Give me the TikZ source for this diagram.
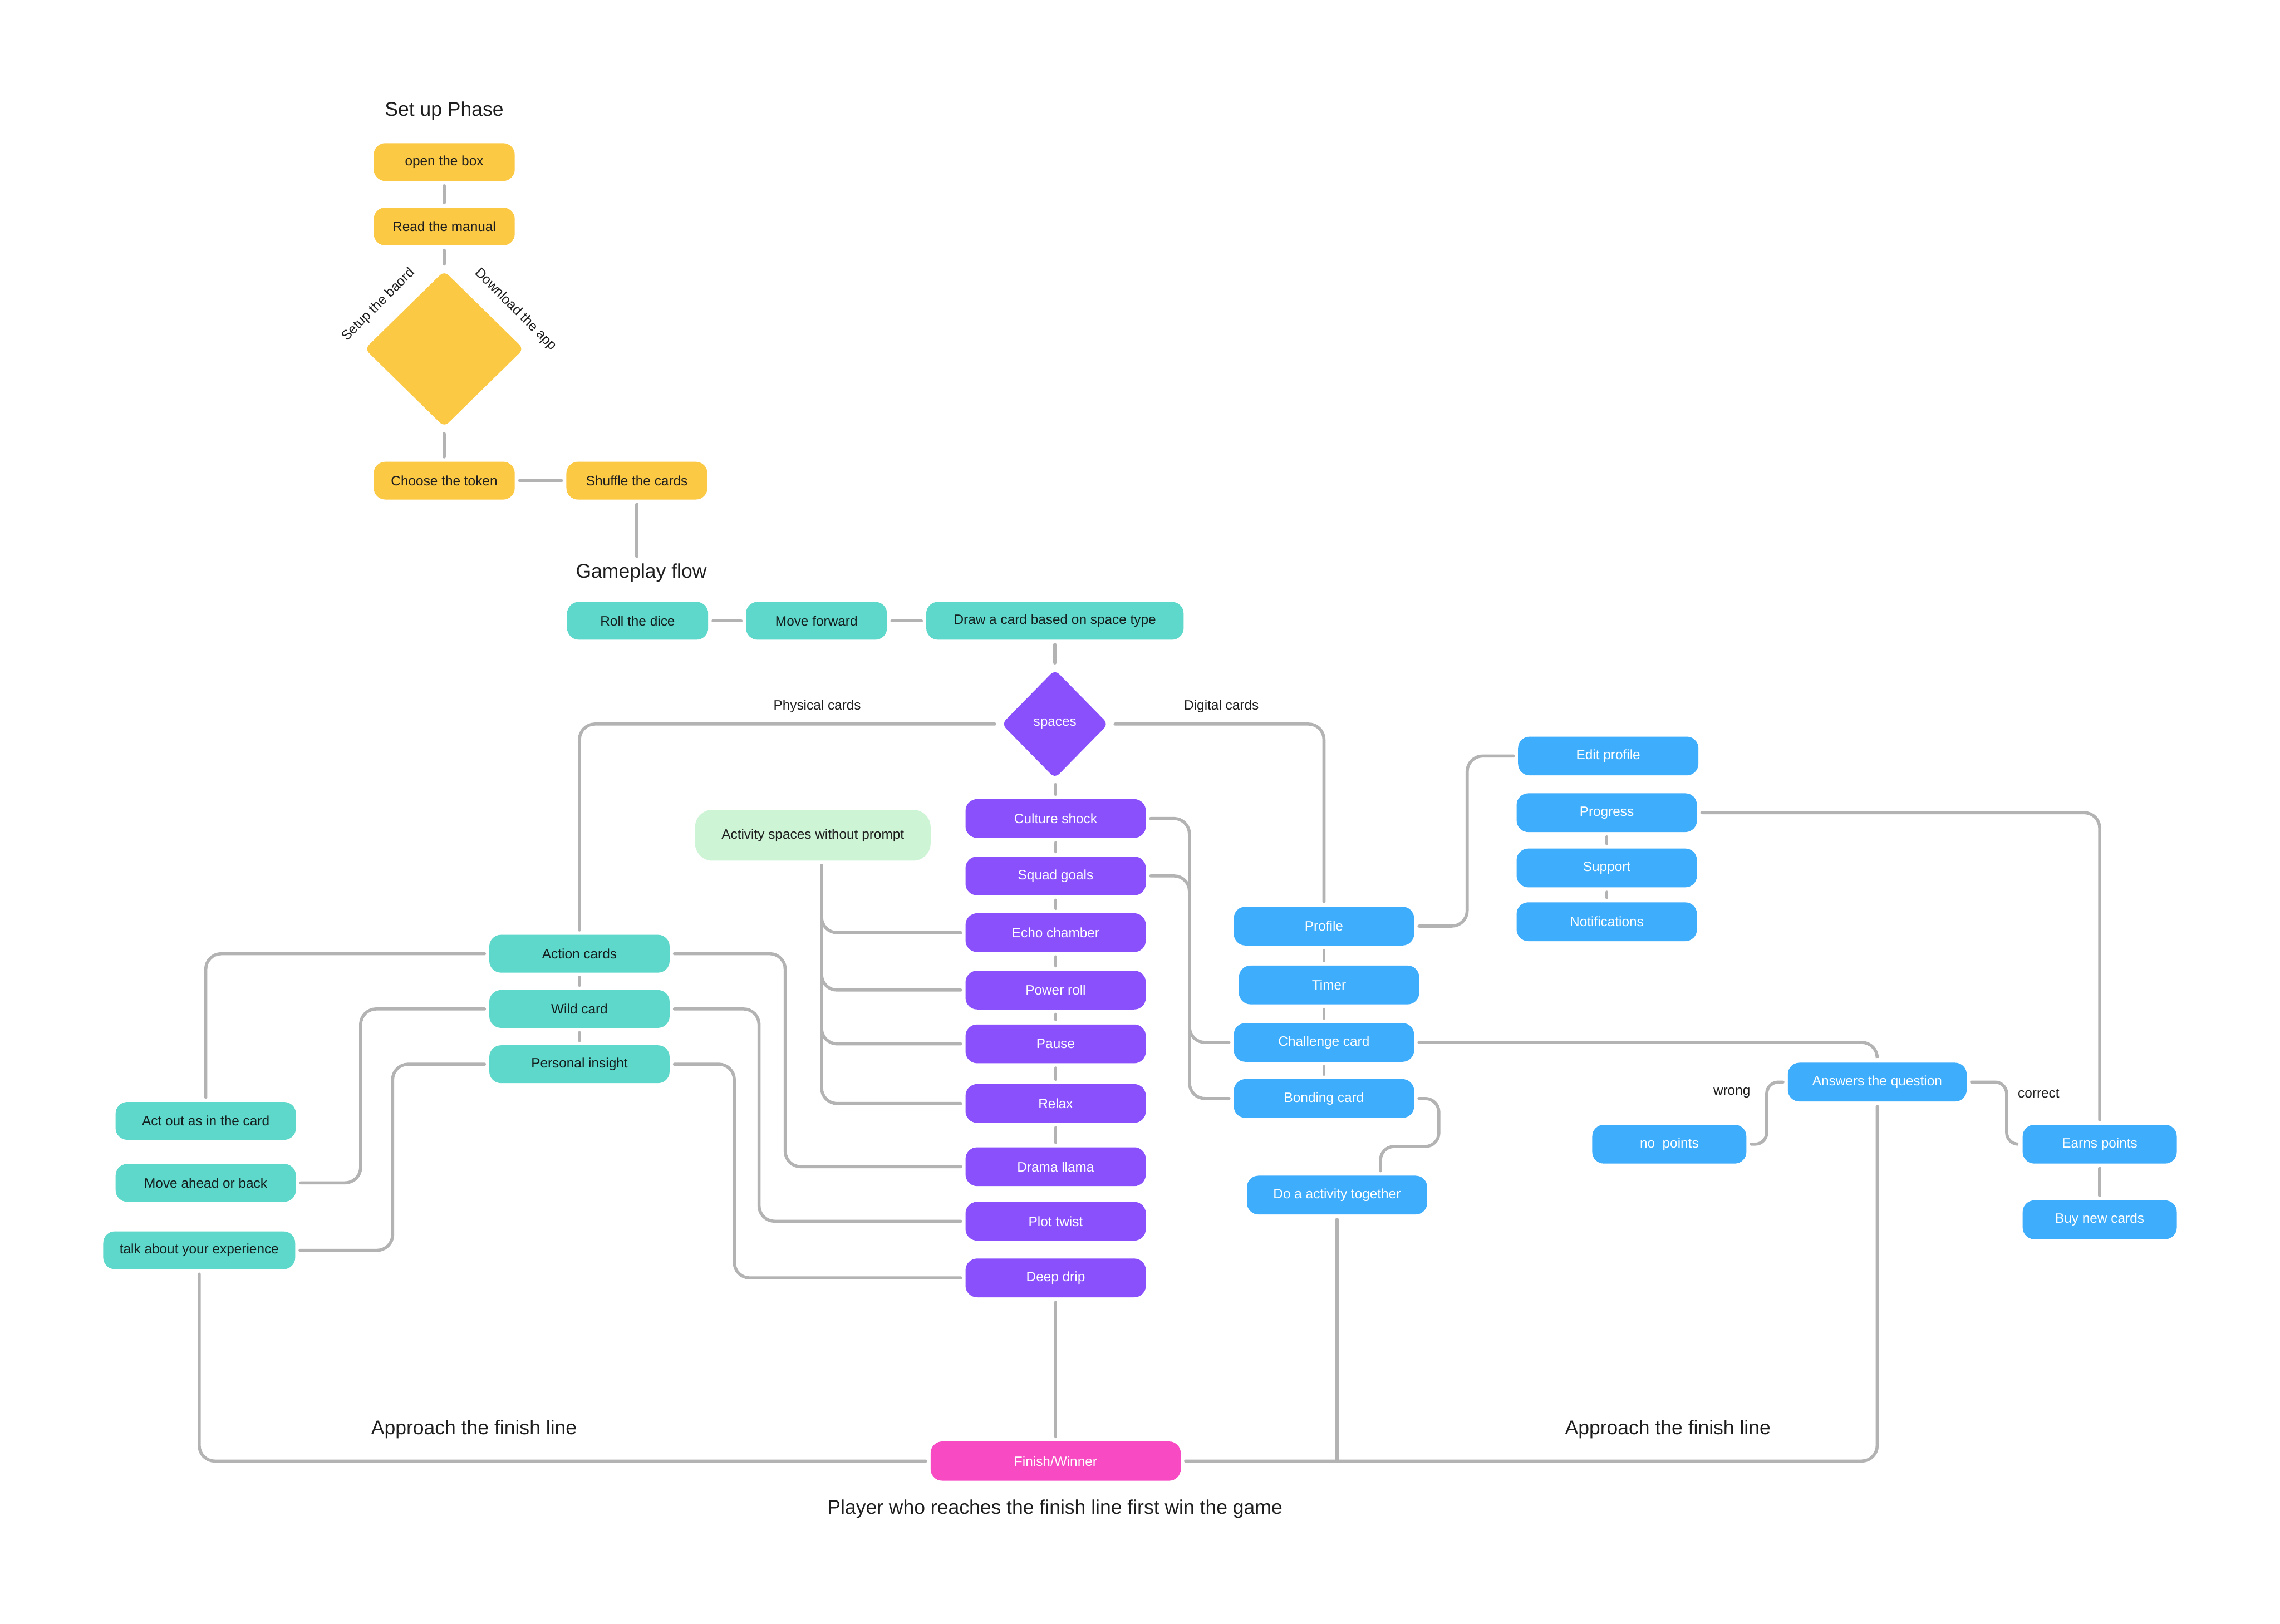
\documentclass[tikz,border=0pt]{standalone}
\usepackage{fontspec}
\setmainfont{Liberation Sans}
\usetikzlibrary{shapes.geometric}

\tikzset{every picture/.style={line width=0.75pt}}
\tikzset{
  card/.style={rounded corners=6pt, inner sep=0pt, outer sep=2.5pt, minimum width=93pt, minimum height=19.5pt, font=\fontsize{7}{8}\selectfont},
  yellowcard/.style={card, fill={rgb, 255:red, 252; green, 201; blue, 69 }, text={rgb, 255:red, 30; green, 30; blue, 30 }, minimum width=72.75pt},
  tealcard/.style={card, fill={rgb, 255:red, 93; green, 216; blue, 202 }, text={rgb, 255:red, 20; green, 30; blue, 30 }},
  purplecard/.style={card, fill={rgb, 255:red, 138; green, 80; blue, 251 }, text=white, minimum height=20pt},
  bluecard/.style={card, fill={rgb, 255:red, 62; green, 173; blue, 252 }, text=white, minimum height=20pt},
  paledcard/.style={card, fill={rgb, 255:red, 204; green, 244; blue, 213 }, text={rgb, 255:red, 30; green, 30; blue, 30 }, rounded corners=9pt},
  pinkcard/.style={card, fill={rgb, 255:red, 248; green, 75; blue, 195 }, text=white},
  decision/.style={diamond, inner sep=0pt, outer sep=2.5pt, rounded corners=3pt, font=\fontsize{7}{8}\selectfont},
  link/.style={draw={rgb, 255:red, 179; green, 179; blue, 179 }, line width=1.6pt, line cap=round, rounded corners=8pt},
  heading/.style={inner sep=0.75pt, outer sep=3pt, text={rgb, 255:red, 30; green, 30; blue, 30 }, font=\fontsize{10.2}{12}\selectfont},
  tag/.style={inner sep=0.75pt, text={rgb, 255:red, 30; green, 30; blue, 30 }, font=\fontsize{7}{8}\selectfont}
}

\begin{document}
\begin{tikzpicture}[x=0.75pt,y=0.75pt,yscale=-1,xscale=1]
\fill[white] (0,0) rectangle (1568,1117);
\useasboundingbox (0,0) rectangle (1568,1117);

%Set up phase
\node [heading] (setuptitle) at (305.5,76.4) {Set up Phase};
\node [yellowcard] (openbox) at (305.5,111.5) {open the box};
\node [yellowcard] (manual) at (305.5,155.8) {Read the manual};
\node [decision, fill={rgb, 255:red, 252; green, 201; blue, 69 }, minimum width=84pt, minimum height=82.5pt] (board) at (305.5,240) {};
\node [yellowcard] (token) at (305.5,330.6) {Choose the token};
\node [yellowcard] (shuffle) at (438,330.6) {Shuffle the cards};
% Text Node
\node [tag, rotate=45] (boardtag) at (260.3,209.8) {Setup the baord};
\node [tag, rotate=-45] (apptag) at (354.5,213) {Download the app};

%Gameplay flow
\node [heading] (gameplay) at (441,394) {Gameplay flow};
\node [tealcard, minimum width=72.75pt] (roll) at (438.5,427) {Roll the dice};
\node [tealcard, minimum width=72.75pt] (forward) at (561.5,427) {Move forward};
\node [tealcard, minimum width=132.75pt] (drawcard) at (725.5,427) {Draw a card based on space type};
\node [decision, fill={rgb, 255:red, 138; green, 80; blue, 251 }, text=white, minimum width=57pt, minimum height=58pt] (spaces) at (725.5,498) {spaces};
% Text Node
\node [tag] (phystag) at (562,486) {Physical cards};
\node [tag] (digitag) at (840,486) {Digital cards};

%Spaces column
\node [purplecard] (culture) at (726,563) {Culture shock};
\node [purplecard] (squad) at (726,602.5) {Squad goals};
\node [purplecard] (echo) at (726,641.5) {Echo chamber};
\node [purplecard] (power) at (726,681) {Power roll};
\node [purplecard] (pause) at (726,718) {Pause};
\node [purplecard] (relax) at (726,759) {Relax};
\node [purplecard] (drama) at (726,802.5) {Drama llama};
\node [purplecard] (plot) at (726,840) {Plot twist};
\node [purplecard] (deep) at (726,879) {Deep drip};
\node [paledcard, minimum width=121.5pt, minimum height=26.25pt] (activity) at (559,574.5) {Activity spaces without prompt};

%Physical cards
\node [tealcard] (action) at (398.5,656) {Action cards};
\node [tealcard] (wild) at (398.5,694) {Wild card};
\node [tealcard] (insight) at (398.5,732) {Personal insight};
\node [tealcard] (actout) at (141.5,771) {Act out as in the card};
\node [tealcard] (moveab) at (141.5,813.6) {Move ahead or back};
\node [tealcard, minimum width=99pt] (talk) at (137,860) {talk about your experience};

%Digital cards
\node [bluecard] (profile) at (910.5,637) {Profile};
\node [bluecard] (timer) at (914,677.5) {Timer};
\node [bluecard] (challenge) at (910.5,717) {Challenge card};
\node [bluecard] (bonding) at (910.5,755.6) {Bonding card};
\node [bluecard] (together) at (919.5,822) {Do a activity together};
\node [bluecard] (editp) at (1106,520) {Edit profile};
\node [bluecard] (progress) at (1105,559) {Progress};
\node [bluecard] (support) at (1105,597) {Support};
\node [bluecard] (notif) at (1105,634) {Notifications};
\node [bluecard, minimum width=92.25pt] (answer) at (1291,744.3) {Answers the question};
\node [bluecard, minimum width=79.5pt] (nopts) at (1148,787) {no\ \ points};
\node [bluecard, minimum width=79.5pt] (earns) at (1444,787) {Earns points};
\node [bluecard, minimum width=79.5pt] (buy) at (1444,839) {Buy new cards};
% Text Node
\node [tag] (wrongtag) at (1191,751.5) {wrong};
\node [tag] (correcttag) at (1402,752) {correct};

%Finish
\node [pinkcard, minimum width=129pt, minimum height=20.25pt] (finish) at (726,1005) {Finish/Winner};
\node [heading] (approachl) at (326,983) {Approach the finish line};
\node [heading] (approachr) at (1147,983) {Approach the finish line};
\node [heading] (winner) at (725.5,1038) {Player who reaches the finish line first win the game};

%Straight Lines: set up
\draw [link] (openbox) -- (manual);
\draw [link] (manual) -- (board);
\draw [link] (board) -- (token);
\draw [link] (token) -- (shuffle);
\draw [link] (shuffle.south) -- (shuffle.south |- gameplay.north);

%Straight Lines: gameplay
\draw [link] (roll) -- (forward);
\draw [link] (forward) -- (drawcard);
\draw [link] (drawcard) -- (spaces);
\draw [link] (spaces.west) -| (action.north);
\draw [link] (spaces.east) -| (profile.north);
\draw [link] (spaces) -- (culture);
\foreach \a/\b in {culture/squad, squad/echo, echo/power, power/pause, pause/relax, relax/drama}
  \draw [link] (\a) -- (\b);
\draw [link] (deep) -- (finish);
\foreach \s in {echo, power, pause, relax}
  \draw [link] ([xshift=4.5pt]activity.south) |- (\s.west);

%Connectors: physical cards
\draw [link] (action) -- (wild);
\draw [link] (wild) -- (insight);
\draw [link] (action.east) -| (540,740) |- (drama.west);
\draw [link] (wild.east) -| (522,760) |- (plot.west);
\draw [link] (insight.east) -| (505,800) |- (deep.west);
\draw [link] (action.west) -| (actout.north);
\draw [link] (wild.west) -| (248,760) |- (moveab.east);
\draw [link] (insight.west) -| (270,800) |- (talk.east);
\draw [link] (talk.south) |- (finish.west);

%Connectors: digital cards
\draw [link] (culture.east) -| (818,640) |- (challenge.west);
\draw [link] (squad.east) -| (818,680) |- (bonding.west);
\draw [link] (profile.south) -- (profile.south |- timer.north);
\draw [link] (timer.south -| profile.south) -- (challenge.north);
\draw [link] (challenge) -- (bonding);
\draw [link] (profile.east) -| (1009,580) |- (editp.west);
\draw [link] (progress) -- (support);
\draw [link] (support) -- (notif);
\draw [link] (progress.east) -| (earns.north);
\draw [link] (challenge.east) -| (answer.north);
\draw [link, rounded corners=6pt] (answer.west) -| (1215,765) |- (nopts.east);
\draw [link, rounded corners=6pt] (answer.east) -| (1380,765) |- (earns.west);
\draw [link] (earns) -- (buy);
\draw [link, rounded corners=7pt] (bonding.east) -| (989.5,788.6) -| ([xshift=22.4pt]together.north);
\draw [link] (together.south) -- (together.south |- finish.east);
\draw [link] (answer.south) |- (finish.east);

\end{tikzpicture}
\end{document}
